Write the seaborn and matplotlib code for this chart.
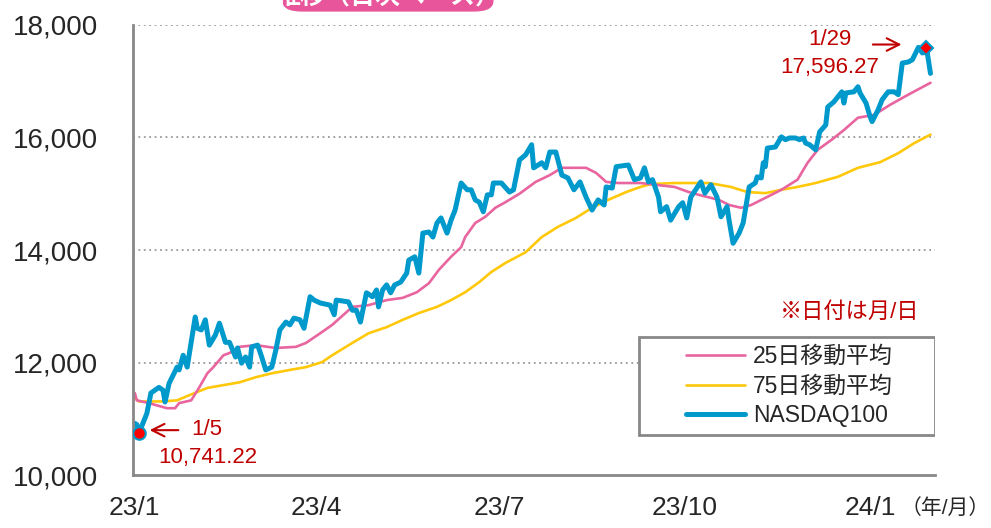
import matplotlib
matplotlib.use("Agg")
import matplotlib.pyplot as plt
from matplotlib.patches import FancyBboxPatch, Rectangle
import seaborn as sns
import pandas as pd

START = pd.Timestamp("2023-01-01")

# NASDAQ100 close (days since 2023-01-01, value)
nasdaq_days = [0, 1, 2, 6, 8, 12, 14, 15, 17, 21, 22, 24, 26, 30, 31, 33, 35, 37, 40, 42, 45, 47,
               50, 51, 53, 55, 57, 58, 61, 63, 65, 68, 70, 72, 75, 77, 79, 82, 84, 87, 89, 92,
               97, 99, 100, 106, 108, 110, 112, 115, 118, 120, 121, 123, 125, 127, 129, 132, 135,
               136, 139, 141, 143, 146, 148, 150, 152, 155, 157, 159, 162, 165, 167, 169, 171,
               173, 175, 177, 178, 182, 186, 188, 191, 194, 197, 198, 202, 204, 206, 209, 212,
               215, 218, 221, 224, 227, 230, 233, 234, 237, 239, 245, 248, 251, 253, 255, 257,
               260, 261, 264, 266, 270, 272, 274, 276, 281, 283, 286, 289, 291, 294, 295, 297,
               300, 302, 305, 308, 309, 311, 312, 313, 314, 318, 321, 323, 325, 328, 330, 332,
               333, 335, 338, 340, 343, 344, 347, 349, 351, 352, 353, 357, 359, 360, 363, 365,
               366, 369, 371, 374, 377, 379, 381, 384, 386, 389, 391, 393, 395]
nasdaq_vals = [10920, 10900, 10741.22, 11100, 11460, 11560, 11510, 11300, 11630, 11920, 11870, 12130,
               11920, 12810, 12610, 12580, 12760, 12310, 12490, 12700, 12360, 12360, 12100, 12260,
               11990, 12100, 11920, 12280, 12310, 12100, 11870, 11920, 12220, 12580, 12720, 12670,
               12790, 12760, 12610, 13170, 13110, 13060, 13020, 12850, 13110, 13080, 12930, 12930,
               12720, 13240, 13170, 13290, 12990, 13290, 13380, 13240, 13380, 13430, 13590, 13820,
               13880, 13590, 14300, 14320, 14230, 14480, 14570, 14300, 14530, 14710, 15190, 15070,
               15070, 14890, 14850, 14680, 14980, 14980, 15190, 15190, 15030, 15070, 15600, 15690,
               15870, 15460, 15550, 15460, 15740, 15740, 15330, 15280, 15070, 15210, 14940, 14710,
               14890, 14800, 15120, 15100, 15480, 15510, 15250, 15280, 15460, 15210, 15250, 14940,
               14680, 14770, 14530, 14770, 14840, 14570, 14940, 15210, 15010, 15160, 14940, 14590,
               14770, 14530, 14120, 14300, 14480, 15120, 15190, 15300, 15280, 15550, 15480, 15810,
               15830, 16010, 15960, 15990, 15990, 15960, 15990, 15900, 15870, 15780, 16100, 16220,
               16540, 16630, 16720, 16810, 16610, 16790, 16810, 16900, 16790, 16610, 16370, 16280,
               16490, 16670, 16810, 16810, 16760, 17320, 17340, 17380, 17600, 17500, 17596.27, 17137]

# 25-day moving average
ma25_days = [0, 1, 7, 16, 20, 22, 28, 32, 36, 39, 44, 47, 52, 60, 70, 80, 85, 92, 98, 108, 116,
             125, 133, 140, 146, 151, 157, 162, 164, 169, 174, 179, 184, 191, 199, 206, 212, 224,
             229, 234, 240, 251, 258, 268, 275, 280, 290, 295, 301, 306, 311, 321, 329, 334, 339,
             346, 352, 359, 367, 375, 384, 395]
ma25_vals = [11460, 11330, 11280, 11190, 11190, 11280, 11330, 11560, 11810, 11920, 12130, 12170,
             12280, 12310, 12260, 12280, 12350, 12520, 12670, 12990, 13020, 13110, 13150, 13250,
             13410, 13650, 13880, 14050, 14230, 14480, 14590, 14750, 14850, 15000, 15210, 15330,
             15460, 15460, 15370, 15210, 15190, 15190, 15160, 15120, 15030, 14980, 14890, 14800,
             14750, 14800, 14890, 15070, 15250, 15550, 15780, 15960, 16130, 16350, 16400, 16580,
             16760, 16970]

# 75-day moving average
ma75_days = [0, 2, 14, 21, 27, 36, 44, 52, 60, 68, 77, 85, 93, 98, 108, 116, 125, 133, 141, 150,
             157, 164, 171, 177, 184, 194, 202, 210, 219, 227, 235, 244, 251, 256, 268, 285, 296,
             304, 313, 321, 329, 338, 349, 359, 370, 379, 387, 395]
ma75_vals = [11370, 11310, 11310, 11330, 11420, 11550, 11600, 11650, 11740, 11810, 11870, 11920,
             12010, 12130, 12350, 12520, 12630, 12760, 12880, 12990, 13110, 13250, 13430, 13610,
             13770, 13960, 14230, 14410, 14570, 14750, 14890, 15030, 15120, 15170, 15190, 15190,
             15120, 15030, 15010, 15070, 15120, 15190, 15300, 15460, 15560, 15720, 15900, 16050]

tick_dates = ["2023-01-01", "2023-04-01", "2023-07-01", "2023-10-01", "2024-01-01"]
tick_labels = ["23/1", "23/4", "23/7", "23/10", "24/1"]
legend_labels = ["25日移動平均", "75日移動平均", "NASDAQ100"]

BLUE = "#0099CC"
PINK = "#E8659F"
YELLOW = "#FFC80A"
RED = "#C00000"


def to_dates(days):
    return START + pd.to_timedelta(days, unit="D")


def main():
    sns.set_style("white")
    plt.rcParams["font.family"] = ["Liberation Sans", "Noto Sans CJK JP", "DejaVu Sans"]

    fig = plt.figure(figsize=(9.91, 5.28), dpi=100)
    ax = fig.add_axes([0.134, 0.100, 0.809, 0.853])

    sns.lineplot(x=to_dates(ma75_days), y=ma75_vals, ax=ax, color=YELLOW, linewidth=1.9,
                 label=legend_labels[1])
    sns.lineplot(x=to_dates(ma25_days), y=ma25_vals, ax=ax, color=PINK, linewidth=1.9,
                 label=legend_labels[0])
    sns.lineplot(x=to_dates(nasdaq_days), y=nasdaq_vals, ax=ax, color=BLUE, linewidth=3.6,
                 label=legend_labels[2])

    ax.set_ylim(10000, 18000)
    ax.set_xlim(to_dates([-1])[0], to_dates([397])[0])
    yt = [10000, 12000, 14000, 16000, 18000]
    ax.set_yticks(yt)
    ax.set_yticklabels([f"{v:,}" for v in yt], fontsize=20)
    ax.set_xticks(pd.to_datetime(tick_dates))
    ax.set_xticklabels(tick_labels, fontsize=19)
    ax.set_xlabel("")
    ax.set_ylabel("")

    for v in yt[1:]:
        ax.axhline(v, color="#999999", linestyle=(0, (1, 2)), linewidth=1.3, zorder=0)

    for s in ["top", "right"]:
        ax.spines[s].set_visible(False)
    for s in ["left", "bottom"]:
        ax.spines[s].set_color("#888888")
        ax.spines[s].set_linewidth(2)
    ax.tick_params(axis="y", direction="in", length=8, width=2, color="#888888", pad=25)
    ax.tick_params(axis="x", direction="inout", length=10, width=2, color="#888888", pad=10)

    # start / latest markers
    d0 = to_dates([2])[0]
    d1 = to_dates([393])[0]
    ax.plot([d0], [10741.22], marker="o", markersize=9, color="red", markeredgecolor=BLUE,
            markeredgewidth=1.5, zorder=5)
    ax.plot([d1], [17596.27], marker="D", markersize=7, color="red", markeredgecolor=BLUE,
            markeredgewidth=1.5, zorder=5)

    arrow = dict(arrowstyle="->,head_length=0.9,head_width=0.45", color=RED, lw=1.5)
    ax.annotate("", xy=(to_dates([6])[0], 10800), xytext=(to_dates([23])[0], 10800),
                arrowprops=arrow)
    ax.text(to_dates([28])[0], 10820, "1/5", color=RED, fontsize=16, va="center", ha="left")
    ax.text(to_dates([36])[0], 10320, "10,741.22", color=RED, fontsize=16, va="center", ha="center")

    ax.annotate("", xy=(to_dates([382])[0], 17650), xytext=(to_dates([365])[0], 17650),
                arrowprops=arrow)
    ax.text(to_dates([345])[0], 17740, "1/29", color=RED, fontsize=16, va="center", ha="center")
    ax.text(to_dates([345])[0], 17250, "17,596.27", color=RED, fontsize=16, va="center", ha="center")

    ax.text(0.981, 0.362, "※日付は月/日", transform=ax.transAxes, color=RED, fontsize=16,
            ha="right", va="center")

    # legend: wide box drawn separately, entries centred inside
    ax.add_patch(Rectangle((0.632, 0.089), 0.368, 0.218, transform=ax.transAxes,
                           facecolor="white", edgecolor="#888888", linewidth=2, zorder=6))
    handles, labels = ax.get_legend_handles_labels()
    order = [labels.index(l) for l in legend_labels]
    leg = ax.legend([handles[i] for i in order], [labels[i] for i in order], loc="center",
                    bbox_to_anchor=(0.819, 0.198), borderaxespad=0, fontsize=16.5, frameon=False,
                    handlelength=2.6, handletextpad=0.35, borderpad=0.2, labelspacing=0.3)
    leg.set_zorder(7)

    fig.text(0.999, 0.038, "（年/月）", fontsize=15, ha="right", va="center")

    # title banner, cut off at the top of the image
    fig.patches.append(FancyBboxPatch((0.285, 0.978), 0.213, 0.08, transform=fig.transFigure,
                                      boxstyle="round,pad=0,rounding_size=0.02",
                                      facecolor="#E8559A", edgecolor="none"))
    fig.text(0.391, 1.005, "推移（日次ベース）", color="white", fontsize=18, fontweight="bold",
             ha="center", va="center")

    fig.savefig("out.png", dpi=100)
    plt.close(fig)


if __name__ == "__main__":
    main()
